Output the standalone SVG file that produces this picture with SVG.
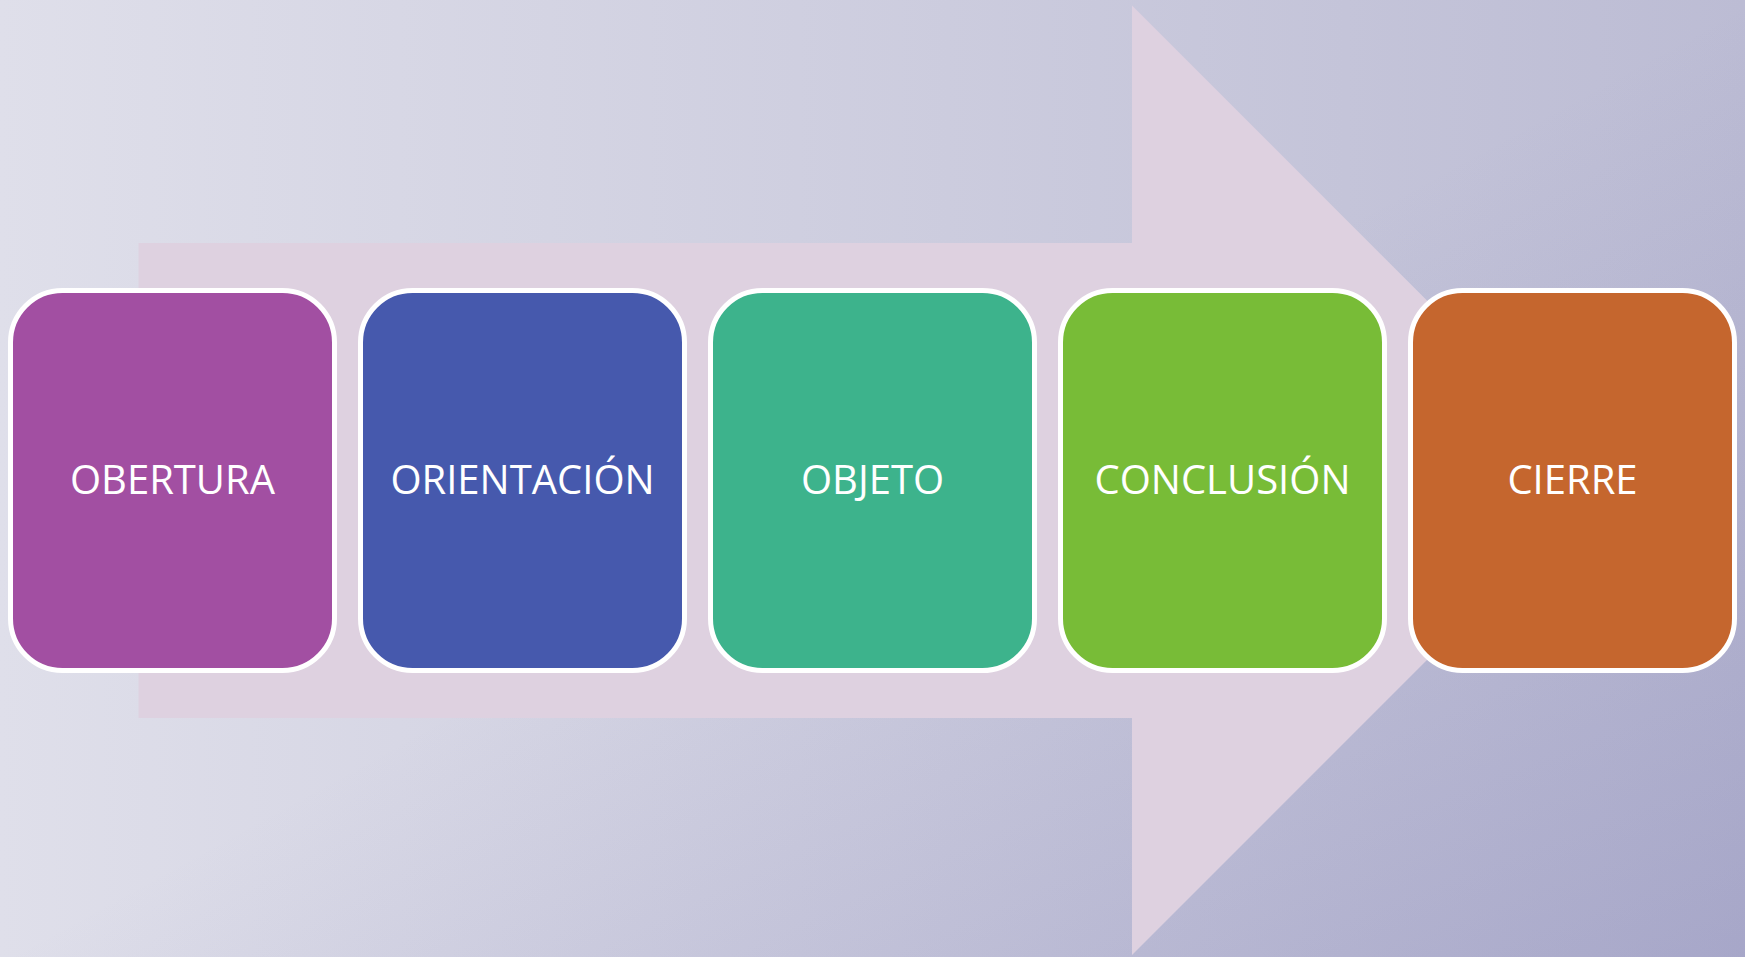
<svg xmlns="http://www.w3.org/2000/svg" width="1745" height="957" viewBox="0 0 1745 957">
<defs>
<linearGradient id="bg" x1="0" y1="0" x2="1" y2="0">
<stop offset="0" stop-color="#dfdfea"/>
<stop offset="1" stop-color="#bcbcd4"/>
</linearGradient>
<linearGradient id="shade" x1="0.5" y1="0.5" x2="1" y2="1">
<stop offset="0" stop-color="#6a6aa8" stop-opacity="0"/>
<stop offset="1" stop-color="#6a6aa8" stop-opacity="0.26"/>
</linearGradient>
<style>
.box{stroke:#ffffff;stroke-width:5}
.lbl{font-family:"Open Sans","Liberation Sans",sans-serif;font-size:40px;fill:#ffffff;text-anchor:middle}
</style>
</defs>
<rect x="0" y="0" width="1745" height="957" fill="url(#bg)"/>
<rect x="0" y="0" width="1745" height="957" fill="url(#shade)"/>
<g id="connectors">
<polygon points="138.5,243 1132,243 1132,5.5 1606.7,480.3 1132,955 1132,718 138.5,718" fill="#ded1e0"/>
</g>
<g id="n1"><rect class="box" x="10.5" y="290.5" width="324" height="380" rx="52" fill="#a24fa2"/><text class="lbl" x="172.5" y="494">OBERTURA</text></g>
<g id="n2"><rect class="box" x="360.5" y="290.5" width="324" height="380" rx="52" fill="#4659ad"/><text class="lbl" x="522.5" y="494">ORIENTACIÓN</text></g>
<g id="n3"><rect class="box" x="710.5" y="290.5" width="324" height="380" rx="52" fill="#3db38c"/><text class="lbl" x="872.5" y="494">OBJETO</text></g>
<g id="n4"><rect class="box" x="1060.5" y="290.5" width="324" height="380" rx="52" fill="#78bc37"/><text class="lbl" x="1222.5" y="494">CONCLUSIÓN</text></g>
<g id="n5"><rect class="box" x="1410.5" y="290.5" width="324" height="380" rx="52" fill="#c5662e"/><text class="lbl" x="1572.5" y="494">CIERRE</text></g>
</svg>
